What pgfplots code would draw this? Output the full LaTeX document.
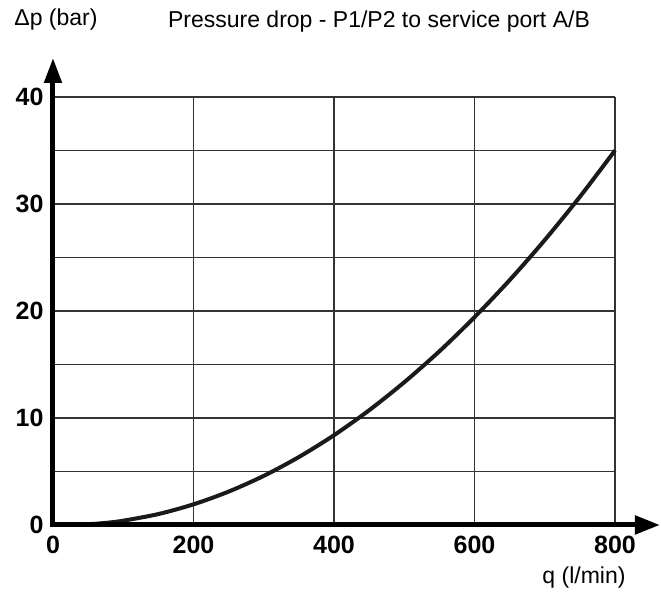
\documentclass[border=0pt]{standalone}
\usepackage{fontspec}
\setmainfont{Liberation Sans}
\usepackage{pgfplots}
\pgfplotsset{compat=1.18}
\usetikzlibrary{arrows.meta}
\definecolor{gridc}{HTML}{333333}
\definecolor{curvec}{HTML}{1A1A1A}
\begin{document}
\begin{tikzpicture}
\useasboundingbox (-26.5pt,-36pt) rectangle (304pt,262.5pt);
\begin{axis}[
  at={(0,0)}, anchor=origin,
  scale only axis, width=281pt, height=214pt,
  xmin=0, xmax=800, ymin=0, ymax=40,
  xtick={0,200,400,600,800},
  ytick={0,10,20,30,40},
  minor ytick={5,15,25,35},
  grid=both,
  major grid style={draw=gridc, line width=0.75pt},
  minor grid style={draw=gridc, line width=0.75pt},
  axis line style={draw=none},
  major tick length=0pt, minor tick length=0pt,
  /pgf/number format/assume math mode=true,
  ticklabel style={font=\fontsize{12.5pt}{14pt}\selectfont\bfseries},
  xticklabel style={yshift=-2pt},
  yticklabel style={xshift=-1.2pt},
  clip=false,
]
\addplot[curvec, line width=2pt, smooth] coordinates {
  (35,0.0) (40,0.03) (60,0.11) (80,0.23) (100,0.40) (150,1.02) (200,1.93)
  (250,3.12) (300,4.59) (350,6.35) (400,8.39) (450,10.72) (500,13.34)
  (550,16.23) (600,19.42) (650,22.88) (700,26.63) (750,30.67) (800,35.0)
};
\draw[line width=2.5pt, -{Triangle[length=12.5pt,width=9pt]}]
  ([xshift=-1.25pt]rel axis cs:0,0) -- ([xshift=22.5pt]rel axis cs:1,0);
\draw[line width=2.5pt, -{Triangle[length=12.5pt,width=8.5pt]}]
  ([yshift=-1.25pt]rel axis cs:0,0) -- ([yshift=19.5pt]rel axis cs:0,1);
\end{axis}
\node[font=\fontsize{11.5pt}{13pt}\selectfont, anchor=west, inner sep=0pt] at (-19.5pt,252.5pt) {Δp (bar)};
\node[font=\fontsize{11.5pt}{13pt}\selectfont, inner sep=0pt] at (163pt,251.5pt) {Pressure drop - P1/P2 to service port A/B};
\node[font=\fontsize{11.5pt}{13pt}\selectfont, inner sep=0pt] at (265.5pt,-26.5pt) {q (l/min)};
\end{tikzpicture}
\end{document}
